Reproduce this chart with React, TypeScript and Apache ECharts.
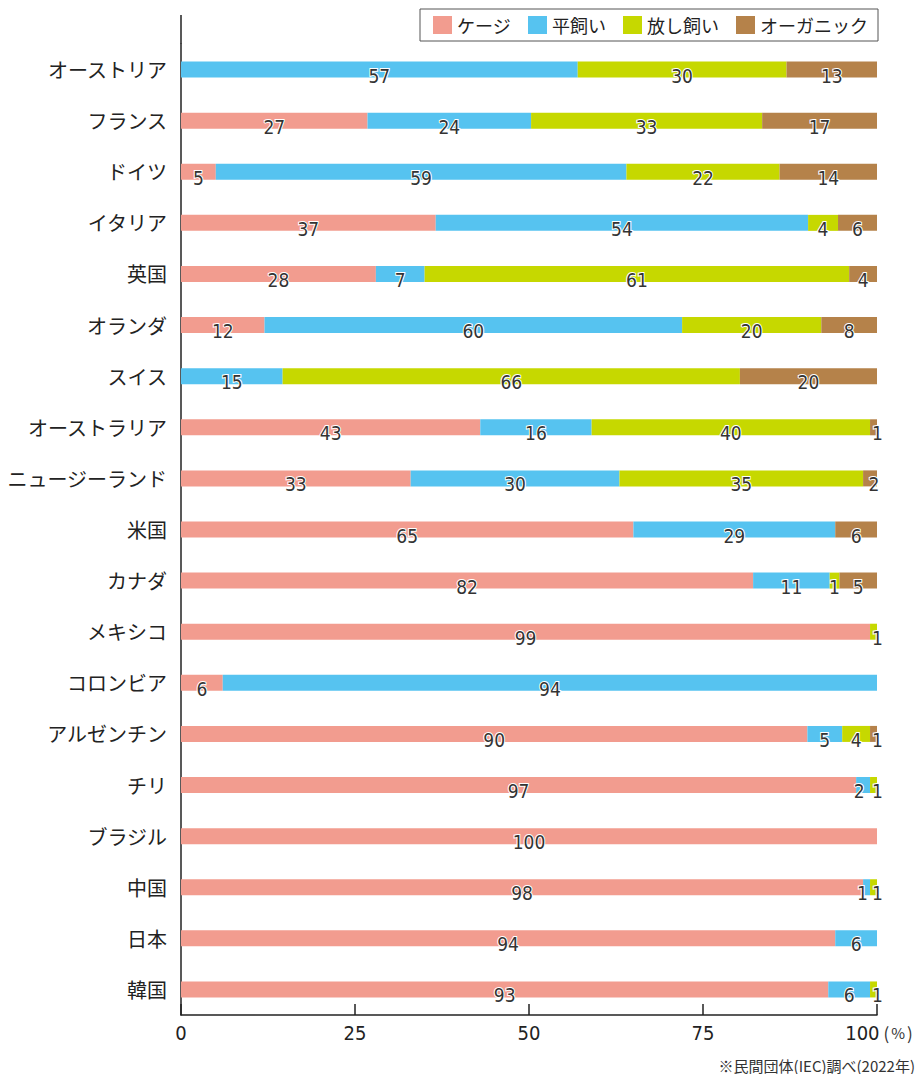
import React, { useEffect, useRef } from "react";
import * as echarts from "echarts";

const categories = [
  "オーストリア", "フランス", "ドイツ", "イタリア", "英国", "オランダ", "スイス",
  "オーストラリア", "ニュージーランド", "米国", "カナダ", "メキシコ", "コロンビア",
  "アルゼンチン", "チリ", "ブラジル", "中国", "日本", "韓国",
];
const seriesNames = ["ケージ", "平飼い", "放し飼い", "オーガニック"];
const cage = [null, 26.8, 5, 36.6, 28, 12, null, 43, 33, 65, 82.2, 99, 6, 90, 97, 100, 98, 94, 93];
const barn = [57, 23.5, 59, 53.5, 7, 60, 14.6, 16, 30, 29, 11, null, 94, 5, 2, null, 1, 6, 6];
const freeRange = [30, 33.2, 22, 4.3, 61, 20, 65.7, 40, 35, null, 1.4, 1, null, 4, 1, null, 1, null, 1];
const organic = [13, 16.5, 14, 5.6, 4, 8, 19.7, 1, 2, 6, 5.4, null, null, 1, null, null, null, null, null];
const xTicks = [0, 25, 50, 75, 100];
const colors = ["#F29C8F", "#56C3F0", "#C6D800", "#B5824A"];
const footnote = "※民間団体(IEC)調べ(2022年)";

const NUM_FONT = "'Liberation Sans Narrow', 'DejaVu Sans Condensed', 'Roboto', sans-serif";
const JP_FONT = "'Noto Sans CJK JP', sans-serif";

export default function App() {
  const ref = useRef<HTMLDivElement>(null);
  useEffect(() => {
    if (!ref.current) return;
    document.body.style.margin = "0";
    document.body.style.overflow = "hidden";
    const chart = echarts.init(ref.current, null, { renderer: "svg" });
    const data = [cage, barn, freeRange, organic];
    // nudge labels of very thin neighbouring segments apart
    const buildData = (si: number) =>
      data[si].map((v, ci) => {
        if (v == null) return null;
        let dx = 0;
        if (v <= 2.5) {
          let rest = 0;
          let nextSmall = false;
          for (let k = si + 1; k < data.length; k++) {
            const w = data[k][ci];
            if (w != null) {
              rest += w;
              if (k === si + 1 || rest === w) nextSmall = nextSmall || w <= 2.5;
            }
          }
          if (rest === 0) dx = 4;
          else if (nextSmall) dx = -4;
        }
        return dx ? { value: v, label: { offset: [dx, 6] } } : v;
      });
    chart.setOption({
      animation: false,
      backgroundColor: "#fff",
      color: colors,
      legend: {
        data: seriesNames,
        right: 41,
        top: 9,
        orient: "horizontal",
        icon: "rect",
        itemWidth: 19,
        itemHeight: 18,
        itemGap: 17,
        padding: [7, 10, 7, 13],
        borderColor: "#555",
        borderWidth: 1,
        textStyle: { fontFamily: JP_FONT, fontSize: 18, color: "#222" },
      },
      grid: {
        left: 181,
        right: 42,
        top: 44,
        bottom: 59,
        containLabel: false,
        outerBoundsMode: "none",
      },
      xAxis: {
        type: "value",
        min: 0,
        max: 100,
        interval: 25,
        splitLine: { show: false },
        axisLine: { show: true, lineStyle: { color: "#222", width: 1.5 } },
        axisTick: { show: true, inside: true, length: 11, lineStyle: { color: "#222", width: 1.5 } },
        axisLabel: {
          color: "#222",
          fontFamily: NUM_FONT,
          fontSize: 20,
          margin: 8,
          formatter: (v: number) =>
            v === xTicks[xTicks.length - 1] ? "{n|" + v + "}{a|(}{q|%}{b|)}" : String(v),
          rich: {
            n: { fontFamily: NUM_FONT, fontSize: 20, color: "#222", padding: [0, 0, 0, 4] },
            a: { fontFamily: JP_FONT, fontSize: 17, color: "#333", padding: [0, 0, 2, 4] },
            q: { fontFamily: JP_FONT, fontSize: 15, color: "#333", padding: [0, 2, 2, 2] },
            b: { fontFamily: JP_FONT, fontSize: 17, color: "#333", padding: [0, 0, 2, 0] },
          },
        },
      },
      yAxis: {
        type: "category",
        data: categories,
        inverse: true,
        axisLine: { show: true, lineStyle: { color: "#222", width: 1.5 } },
        axisTick: { show: false },
        axisLabel: { color: "#222", fontFamily: JP_FONT, fontSize: 20, margin: 14 },
      },
      series: seriesNames.map((name, i) => ({
        name,
        type: "bar",
        stack: "total",
        barWidth: 16,
        data: buildData(i),
        itemStyle: { color: colors[i] },
        label: {
          show: true,
          position: "inside",
          offset: [0, 6],
          color: "#333",
          fontFamily: NUM_FONT,
          fontSize: 19,
          textBorderColor: "#fff",
          textBorderWidth: 2,
          formatter: (p: any) => (p.value == null ? "" : String(Math.round(p.value))),
        },
      })),
      graphic: [
        {
          type: "line",
          shape: { x1: 181, y1: 15, x2: 181, y2: 44 },
          style: { stroke: "#222", lineWidth: 1.5 },
          silent: true,
        },
        {
          type: "text",
          x: 915,
          y: 1065,
          style: {
            text: footnote,
            fontFamily: JP_FONT,
            fontSize: 15,
            fill: "#333",
            align: "right",
            verticalAlign: "middle",
          },
        },
      ],
    });
    return () => chart.dispose();
  }, []);
  return <div ref={ref} style={{ width: 919, height: 1074, display: "block" }} />;
}
